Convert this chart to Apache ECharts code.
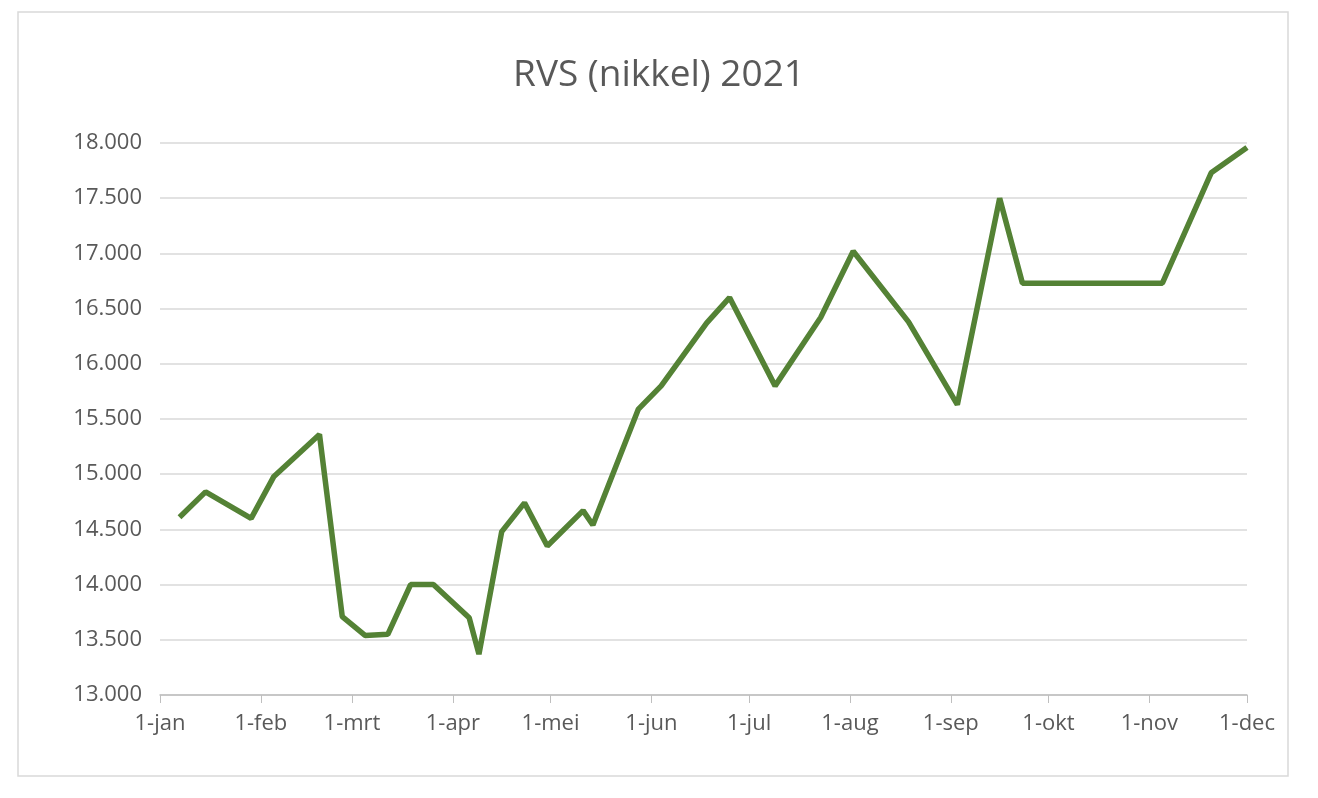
<!DOCTYPE html>
<html><head><meta charset="utf-8">
<script src="https://cdn.jsdelivr.net/npm/echarts@6/dist/echarts.min.js"></script>
<style>html,body{margin:0;padding:0;background:#fff}#c{width:1318px;height:798px}</style>
</head><body><div id="c"></div>
<script>
const dates=['2021-01-07','2021-01-15','2021-01-29','2021-02-05','2021-02-19','2021-02-26','2021-03-05','2021-03-12','2021-03-19','2021-03-26','2021-04-06','2021-04-09','2021-04-16','2021-04-23','2021-04-30','2021-05-11','2021-05-14','2021-05-28','2021-06-04','2021-06-18','2021-06-25','2021-07-09','2021-07-23','2021-08-02','2021-08-19','2021-09-03','2021-09-16','2021-09-23','2021-11-05','2021-11-20','2021-12-01'];
const values=[14610,14840,14600,14980,15360,13710,13540,13550,14000,14000,13700,13370,14480,14740,14350,14670,14540,15590,15800,16370,16600,15800,16420,17020,16380,15630,17500,16730,16730,17730,17960];
const monthNames=['jan','feb','mrt','apr','mei','jun','jul','aug','sep','okt','nov','dec'];
const c=echarts.init(document.getElementById('c'));
c.setOption({
 animation:false,
 title:{text:'RVS (nikkel) 2021',left:'center',top:52,textStyle:{fontFamily:'Open Sans',fontSize:37,fontWeight:'normal',color:'#595959'}},
 graphic:[{type:'rect',shape:{x:18,y:12,width:1270,height:764},style:{fill:'none',stroke:'#d9d9d9',lineWidth:1.5}}],
 grid:{left:160,right:71,top:143,bottom:103},
 xAxis:{type:'time',min:'2021-01-01',max:'2021-12-01',splitNumber:11,
  axisLine:{lineStyle:{color:'#bfbfbf',width:1.5}},axisTick:{show:true,length:8,lineStyle:{color:'#bfbfbf'}},
  splitLine:{show:false},minorTick:{show:false},
  axisLabel:{color:'#595959',fontFamily:'Open Sans',fontSize:22,margin:18,hideOverlap:false,showMaxLabel:true,showMinLabel:true,
   formatter:v=>{const d=new Date(v);return d.getDate()+'-'+monthNames[d.getMonth()];}}},
 yAxis:{type:'value',min:13000,max:18000,interval:500,
  axisLine:{show:false},axisTick:{show:false},
  splitLine:{lineStyle:{color:'#d9d9d9',width:1.5}},
  axisLabel:{color:'#595959',fontFamily:'Open Sans',fontSize:22,margin:18,
   formatter:v=>(v/1000).toFixed(3)}},
 series:[{type:'line',data:dates.map((d,i)=>[d,values[i]]),symbol:'none',lineStyle:{color:'#548235',width:5.5}}]
});
</script></body></html>
